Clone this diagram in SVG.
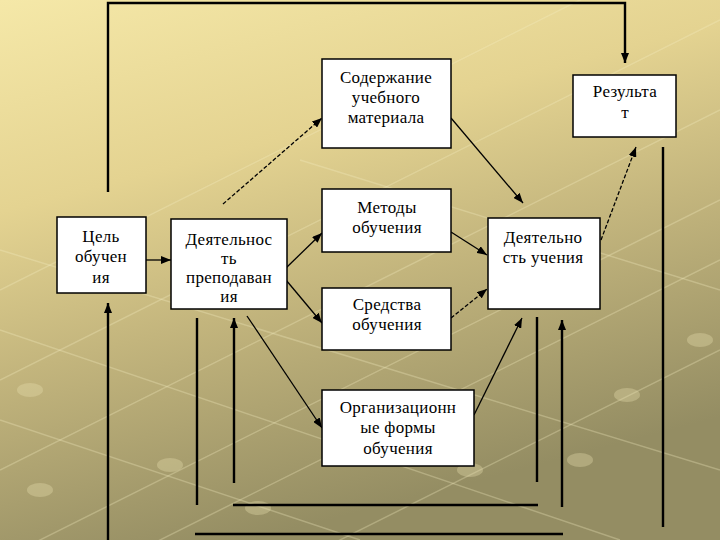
<svg xmlns="http://www.w3.org/2000/svg" width="720" height="540" viewBox="0 0 720 540">
<defs>
<linearGradient id="bg" x1="0" y1="0" x2="0.35" y2="1">
<stop offset="0" stop-color="#f5e8a8"/>
<stop offset="0.35" stop-color="#e4d391"/>
<stop offset="0.62" stop-color="#c3b57d"/>
<stop offset="1" stop-color="#948d63"/>
</linearGradient>
<marker id="ah" viewBox="0 0 10 8" refX="10" refY="4" markerWidth="10" markerHeight="8" markerUnits="userSpaceOnUse" orient="auto">
<path d="M0,0 L10,4 L0,8 z" fill="#000"/>
</marker>
<style>
.box{fill:#fff;stroke:#000;stroke-width:1.5}
text{font-family:'Liberation Serif','DejaVu Serif',serif;font-size:17px;fill:#000;text-anchor:middle;letter-spacing:0.3px}
.c{fill:none;stroke:#000;stroke-width:1.3}
.d{stroke-dasharray:4 2}
.k{fill:none;stroke:#000;stroke-width:2.4}
.g{stroke:#f6efc4;stroke-width:1.5;opacity:0.3;fill:none}
.b{fill:#e8e0b0;opacity:0.35}
</style>
</defs>
<rect width="720" height="540" fill="url(#bg)"/>
<g id="grid">
<path class="g" d="M0,470 L720,110 M0,560 L720,200 M120,560 L720,260 M300,560 L720,350 M0,380 L720,20 M0,290 L600,-10"/>
<path class="g" d="M0,250 L720,470 M0,330 L620,540 M300,160 L720,290 M0,420 L360,540"/>
<ellipse class="b" cx="40" cy="490" rx="13" ry="7"/>
<ellipse class="b" cx="170" cy="465" rx="13" ry="7"/>
<ellipse class="b" cx="258" cy="508" rx="13" ry="7"/>
<ellipse class="b" cx="470" cy="470" rx="13" ry="7"/>
<ellipse class="b" cx="627" cy="395" rx="13" ry="7"/>
<ellipse class="b" cx="700" cy="340" rx="13" ry="7"/>
<ellipse class="b" cx="30" cy="390" rx="13" ry="7"/>
<ellipse class="b" cx="580" cy="460" rx="13" ry="7"/>
</g>
<g id="connectors">
<path class="k" d="M108,192 V3 H625 V63" marker-end="url(#ah)"/>
<path class="c" d="M146,260 H171" marker-end="url(#ah)"/>
<path class="c d" d="M223,204 L322,118" marker-end="url(#ah)"/>
<path class="c" d="M286,268 L322,233" marker-end="url(#ah)"/>
<path class="c" d="M286,280 L322,323" marker-end="url(#ah)"/>
<path class="c" d="M247,316 L322,428" marker-end="url(#ah)"/>
<path class="c" d="M451,118 L523,203" marker-end="url(#ah)"/>
<path class="c" d="M451,232 L487,255" marker-end="url(#ah)"/>
<path class="c d" d="M451,318 L487,289" marker-end="url(#ah)"/>
<path class="c" d="M474,415 L522,318" marker-end="url(#ah)"/>
<path class="c d" d="M601,240 L636,147" marker-end="url(#ah)"/>
<path class="k" d="M108,540 V303" marker-end="url(#ah)"/>
<path class="k" d="M197,318 V505"/>
<path class="k" d="M195,534 H563"/>
<path class="k" d="M234,483 V318" marker-end="url(#ah)"/>
<path class="k" d="M233,505 H538"/>
<path class="k" d="M537,317 V482"/>
<path class="k" d="M562,507 V320" marker-end="url(#ah)"/>
<path class="k" d="M663,147 V527"/>
</g>
<g id="goal">
<rect class="box" x="57" y="217" width="89" height="76"/>
<text x="101" y="242">Цель</text>
<text x="101" y="262">обучен</text>
<text x="101" y="283">ия</text>
</g>
<g id="teaching">
<rect class="box" x="171" y="219" width="116" height="90"/>
<text x="229" y="245">Деятельнос</text>
<text x="229" y="264">ть</text>
<text x="229" y="283">преподаван</text>
<text x="229" y="302">ия</text>
</g>
<g id="content">
<rect class="box" x="322" y="59" width="129" height="89"/>
<text x="386" y="83">Содержание</text>
<text x="386" y="103">учебного</text>
<text x="386" y="123">материала</text>
</g>
<g id="methods">
<rect class="box" x="322" y="189" width="129" height="63"/>
<text x="387" y="213">Методы</text>
<text x="387" y="233">обучения</text>
</g>
<g id="means">
<rect class="box" x="322" y="288" width="129" height="62"/>
<text x="387" y="310">Средства</text>
<text x="387" y="330">обучения</text>
</g>
<g id="forms">
<rect class="box" x="322" y="390" width="152" height="76"/>
<text x="398" y="413">Организационн</text>
<text x="398" y="433">ые формы</text>
<text x="398" y="454">обучения</text>
</g>
<g id="result">
<rect class="box" x="573" y="75" width="103" height="62"/>
<text x="625" y="97">Результа</text>
<text x="625" y="118">т</text>
</g>
<g id="learning">
<rect class="box" x="488" y="218" width="112" height="91"/>
<text x="543" y="243">Деятельно</text>
<text x="543" y="263">сть учения</text>
</g>
</svg>
